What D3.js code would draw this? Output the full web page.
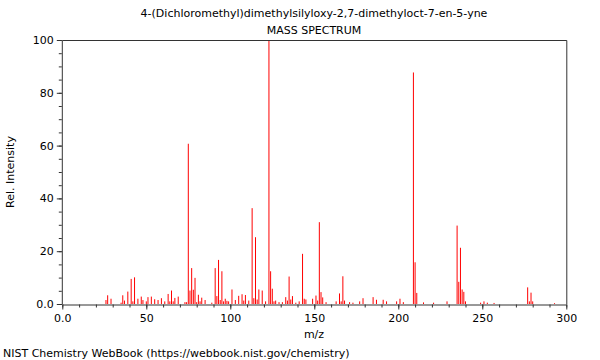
<!DOCTYPE html>
<html lang="en">
<head>
<meta charset="UTF-8">
<title>Mass Spectrum</title>
<script src="https://d3js.org/d3.v7.min.js"></script>
<style>
	body { margin: 0; background: #fff; }
	svg text { font-family: "DejaVu Sans", sans-serif; font-size: 11px; fill: #000; }
</style>
</head>
<body>
<svg id="chart" width="600" height="360"></svg>
<script>
	// peaks
	const mz = [26, 27, 29, 35, 36, 37, 39, 41, 42, 43, 45, 47, 48, 50, 51, 53, 55, 57, 59, 61,
		63, 64, 65, 66, 67, 69, 73, 74, 75, 76, 77, 78, 79, 80, 81, 82, 83, 85, 89, 91,
		92, 93, 94, 95, 96, 97, 98, 99, 101, 103, 105, 107, 108, 109, 111, 113, 114, 115, 116, 117,
		119, 121, 123, 124, 125, 126, 127, 129, 131, 133, 134, 135, 136, 137, 139, 141, 143, 144, 145, 149,
		151, 152, 153, 154, 155, 157, 163, 165, 166, 167, 168, 171, 173, 177, 179, 185, 187, 191, 193, 199,
		201, 203, 209, 210, 211, 215, 221, 229, 235, 236, 237, 238, 239, 240, 249, 251, 253, 257, 277, 278,
		279, 280, 293]
	const intensity = [1.5, 3.3, 2, 0.5, 3.3, 1.3, 4.7, 9.5, 1, 10.1, 2, 2.8, 1.5, 1, 2.6, 2.8, 1.8, 1.5, 2.2, 1,
		3.8, 1, 5.1, 1, 2.3, 2.8, 0.7, 0.7, 60.7, 5.1, 13.6, 5.4, 9.9, 0.7, 3.5, 1, 2.4, 1.5, 0.5, 13.6,
		3, 16.7, 1.5, 12.4, 1, 2, 1.2, 1, 5.5, 1.5, 3.1, 3.7, 1.3, 3.4, 1.3, 36.3, 2.2, 25.3, 1.7, 5.5,
		5.1, 1, 100, 12.4, 5.8, 1, 1.3, 0.7, 0.7, 2.6, 1.3, 10.4, 1.7, 3, 0.5, 1, 19, 2, 1.7, 2,
		3.2, 1.3, 31, 4.5, 2.5, 0.7, 1, 4, 1, 10.5, 1.3, 0.7, 0.5, 1, 2.2, 2.6, 1.6, 1.6, 1, 1,
		2, 0.7, 87.7, 15.8, 4.2, 0.6, 0.5, 1, 29.7, 8.4, 21.3, 5.5, 4.6, 1, 0.5, 1, 0.5, 0.4, 6.3, 1,
		4.3, 1, 0.3]

	const xTicks = [0, 50, 100, 150, 200, 250, 300]
	const yTicks = [0, 20, 40, 60, 80, 100]
	const xMinor = d3.range(0, 301, 10)
	const yMinor = d3.range(0, 101, 5)

	const titleText = "4-(Dichloromethyl)dimethylsilyloxy-2,7-dimethyloct-7-en-5-yne"

	const plotLeft = 62.3, plotRight = 566.3, plotTop = 40, plotBottom = 304
	const svg = d3.select("#chart")
	const x = d3.scaleLinear().domain([0, 300]).range([plotLeft, plotRight])
	const y = d3.scaleLinear().domain([0, 100]).range([plotBottom, plotTop])
	const axisColor = "#333"

	// peaks
	svg.append("g").selectAll("line")
		.data(mz.map((m, i) => ({m: m, v: intensity[i]})))
		.join("line")
		.attr("x1", d => x(d.m)).attr("x2", d => x(d.m))
		.attr("y1", y(0)).attr("y2", d => y(d.v))
		.attr("stroke", "#ff0000")
		.attr("stroke-width", 1)

	// frame (top + right)
	svg.append("path")
		.attr("d", `M${plotLeft},${plotTop + 0.5}H${plotRight + 0.5}V${plotBottom}`)
		.attr("fill", "none").attr("stroke", axisColor)

	// minor ticks
	svg.append("g").attr("transform", `translate(0,${plotBottom + 0.5})`)
		.call(d3.axisBottom(x).tickValues(xMinor).tickSize(3).tickFormat(""))
		.call(g => g.select(".domain").remove())
		.selectAll("line").attr("stroke", axisColor)
	svg.append("g").attr("transform", `translate(${plotLeft - 0.5},0)`)
		.call(d3.axisLeft(y).tickValues(yMinor).tickSize(3).tickFormat(""))
		.call(g => g.select(".domain").remove())
		.selectAll("line").attr("stroke", axisColor)

	// major axes
	const xAxis = svg.append("g").attr("transform", `translate(0,${plotBottom + 0.5})`)
		.call(d3.axisBottom(x).tickValues(xTicks).tickSize(5).tickSizeOuter(0)
			.tickFormat(d => d === 0 ? "0.0" : d))
	const yAxis = svg.append("g").attr("transform", `translate(${plotLeft - 0.5},0)`)
		.call(d3.axisLeft(y).tickValues(yTicks).tickSize(5).tickSizeOuter(0)
			.tickFormat(d => d === 0 ? "0.0" : d))
	for (const g of [xAxis, yAxis]) {
		g.attr("font-family", null).attr("font-size", null)
		g.selectAll("path,line").attr("stroke", axisColor)
		g.selectAll("text").attr("fill", "#000")
	}
	xAxis.selectAll("text").attr("dy", "0.9em")

	// texts
	svg.append("text").attr("x", 314).attr("y", 17).attr("text-anchor", "middle").text(titleText)
	svg.append("text").attr("x", 314).attr("y", 34).attr("text-anchor", "middle").text("MASS SPECTRUM")
	svg.append("text").attr("x", 314).attr("y", 338).attr("text-anchor", "middle").text("m/z")
	svg.append("text").attr("transform", `translate(14,${(plotTop + plotBottom) / 2}) rotate(-90)`)
		.attr("text-anchor", "middle").text("Rel. Intensity")
	svg.append("text").attr("x", 3).attr("y", 357).text("NIST Chemistry WebBook (https://webbook.nist.gov/chemistry)")
</script>
</body>
</html>
